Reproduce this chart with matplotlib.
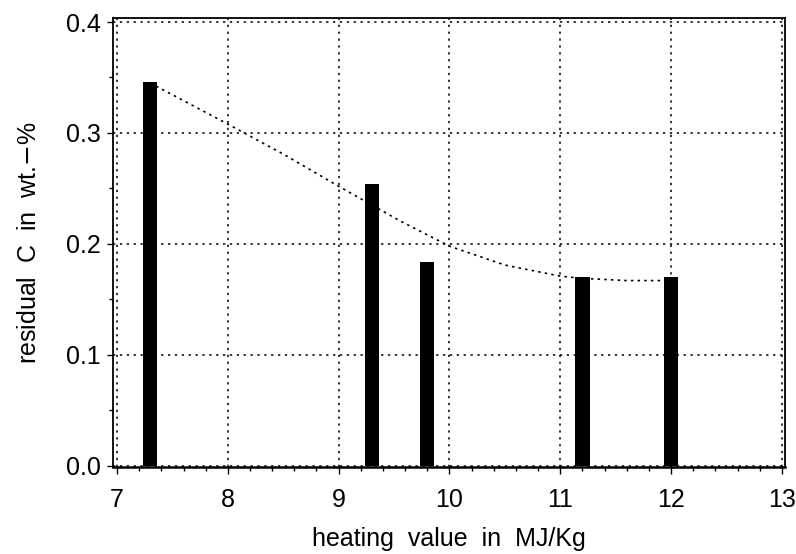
import matplotlib
matplotlib.use('Agg')
import matplotlib.pyplot as plt
from matplotlib.ticker import MultipleLocator

# bars: heating value (MJ/Kg) vs residual C (wt.-%)
heating = [7.3, 9.3, 9.8, 11.2, 12.0]
residual = [0.346, 0.254, 0.184, 0.170, 0.170]

# dotted trend curve
curve_x = [7.3, 8.0, 8.5, 9.0, 9.55, 10.0, 10.5, 11.0, 11.2, 11.6, 12.0]
curve_y = [0.345, 0.308, 0.281, 0.252, 0.221, 0.198, 0.181, 0.171, 0.169, 0.167, 0.167]

plt.rcParams['font.family'] = ['Liberation Sans', 'DejaVu Sans']

fig = plt.figure(figsize=(7.96, 5.54), dpi=100)
ax = fig.add_axes([0.142, 0.157, 0.844, 0.8105])

ax.bar(heating, residual, width=0.13, color='black', zorder=3)
ax.plot(curve_x, curve_y, color='black', linestyle=(0, (1.5, 2.5)), linewidth=1.2, zorder=4)

# frame sits a few pixels outside the data range, like the original
ax.set_xlim(6.964, 13.027)
ax.set_ylim(-0.001, 0.4036)
ax.xaxis.set_major_locator(MultipleLocator(1))
ax.xaxis.set_minor_locator(MultipleLocator(0.2))
ax.yaxis.set_major_locator(MultipleLocator(0.1))
ax.yaxis.set_minor_locator(MultipleLocator(0.05))
ax.yaxis.set_major_formatter(plt.FormatStrFormatter('%.1f'))

ax.grid(True, which='major', color='black', linestyle=(0, (1.5, 3)), linewidth=1.1, zorder=1)
for s in ax.spines.values():
    s.set_linewidth(1.3)
ax.spines['bottom'].set_linewidth(1.8)

ax.tick_params(axis='both', which='major', direction='out', width=1, labelsize=18)
ax.tick_params(axis='both', which='minor', direction='out', width=1)
ax.tick_params(axis='x', which='major', length=5, pad=10)
ax.tick_params(axis='x', which='minor', length=3)
ax.tick_params(axis='y', which='major', length=4, pad=5)
ax.tick_params(axis='y', which='minor', length=3)

ax.set_xlabel('heating  value  in  MJ/Kg', fontsize=18, labelpad=11)
ax.set_ylabel('residual  C  in  wt.$-$%', fontsize=18, labelpad=18)

fig.savefig('out.png', dpi=100)
